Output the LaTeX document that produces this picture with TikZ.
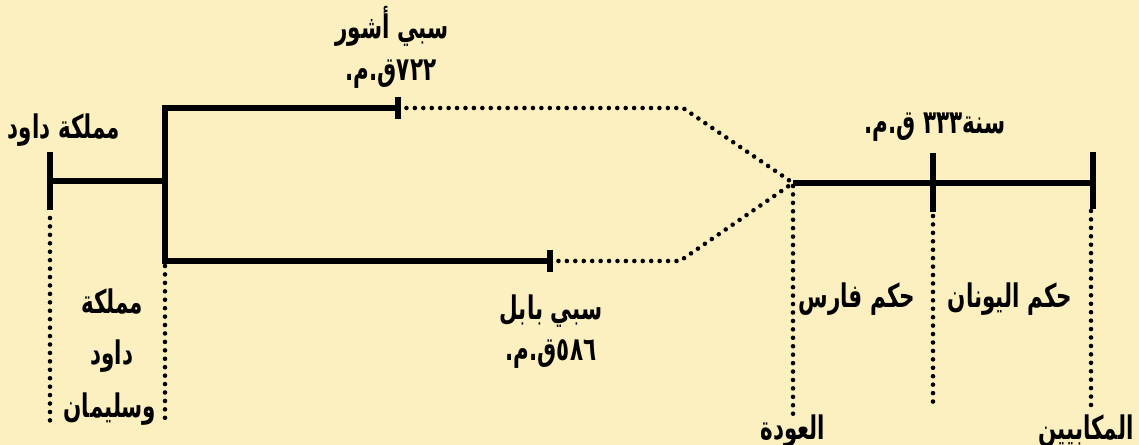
\documentclass[tikz,border=0pt]{standalone}
\usepackage{fontspec}
\usepackage{tikz}
\TeXXeTstate=1
\newfontfamily\arabicfont[Script=Arabic,FakeStretch=0.66]{DejaVu Sans}
\definecolor{Paper}{HTML}{FDF0C0}
\newcommand{\ar}[1]{\beginR#1\endR}

\begin{document}
\begin{tikzpicture}[x=0.02cm,y=-0.02cm,
    bar/.style={line width=3.4pt},
    dotline/.style={line width=2.6pt,line cap=round,dash pattern=on 0pt off 4.8pt},
    lbl/.style={inner sep=0pt,font=\arabicfont\bfseries\fontsize{18.5}{22}\selectfont}]
  \fill[Paper] (0,0) rectangle (1139,445);
  \useasboundingbox (0,0) rectangle (1139,445);
  % points of the time line
  \coordinate (dav) at (50,181);
  \coordinate (split) at (165,181);
  \coordinate (topA) at (165,108);
  \coordinate (botA) at (165,261);
  \coordinate (ash) at (398,108);
  \coordinate (bab) at (550,261);
  \coordinate (topB) at (683,108);
  \coordinate (botB) at (680,261);
  \coordinate (ret) at (793,183);
  \coordinate (gre) at (933,183);
  \coordinate (mac) at (1093,183);
  % solid parts
  \draw[bar] (dav) -- (split);
  \draw[bar] (ash) -- (topA) -- (botA) -- (bab);
  \draw[bar] (ret) -- (mac);
  \draw[bar] (dav) ++(0,-29) -- ++(0,58);
  \draw[bar] (ash) ++(0,-11) -- ++(0,22);
  \draw[bar] (bab) ++(0,-11) -- ++(0,22);
  \draw[bar] (gre) ++(0,-30) -- ++(0,59);
  \draw[bar] (mac) ++(0,-31) -- ++(0,57);
  % dotted parts
  \draw[dotline] (ash) -- (topB) -- (ret);
  \draw[dotline] (bab) -- (botB) -- (ret);
  \draw[dotline] (dav) ++(0,37) -- ++(0,203);
  \draw[dotline] (botA) ++(0,5) -- ++(0,155);
  \draw[dotline] (ret) ++(0,3) -- ++(0,228);
  \draw[dotline] (gre) ++(0,33) -- ++(0,188);
  \draw[dotline] (mac) ++(-2,28) -- ++(0,199);
  % labels
  \node[lbl] (davTop) at (64,130) {\ar{مملكة داود}};
  \node[lbl] (ashName) at (392,26) {\ar{سبي أشور}};
  \node[lbl] (ashYear) at (391,74) {\ar{ق.م.}\beginL ٧٢٢\endL};
  \node[lbl] (babName) at (551,311) {\ar{سبي بابل}};
  \node[lbl] (babYear) at (551,354) {\ar{ق.م.}\beginL ٥٨٦\endL};
  \node[lbl] (greYear) at (935,127) {\ar{ق.م.}\ \beginL ٣٣٣\endL\ar{سنة}};
  \node[lbl] (davLow1) at (112,302) {\ar{مملكة}};
  \node[lbl] (davLow2) at (112,356) {\ar{داود}};
  \node[lbl] (davLow3) at (110,409) {\ar{وسليمان}};
  \node[lbl] (persia) at (857,299) {\ar{حكم فارس}};
  \node[lbl] (greece) at (1010,299) {\ar{حكم اليونان}};
  \node[lbl] (retLbl) at (793,431) {\ar{العودة}};
  \node[lbl] (macLbl) at (1086,431) {\ar{المكابيين}};
\end{tikzpicture}
\end{document}
